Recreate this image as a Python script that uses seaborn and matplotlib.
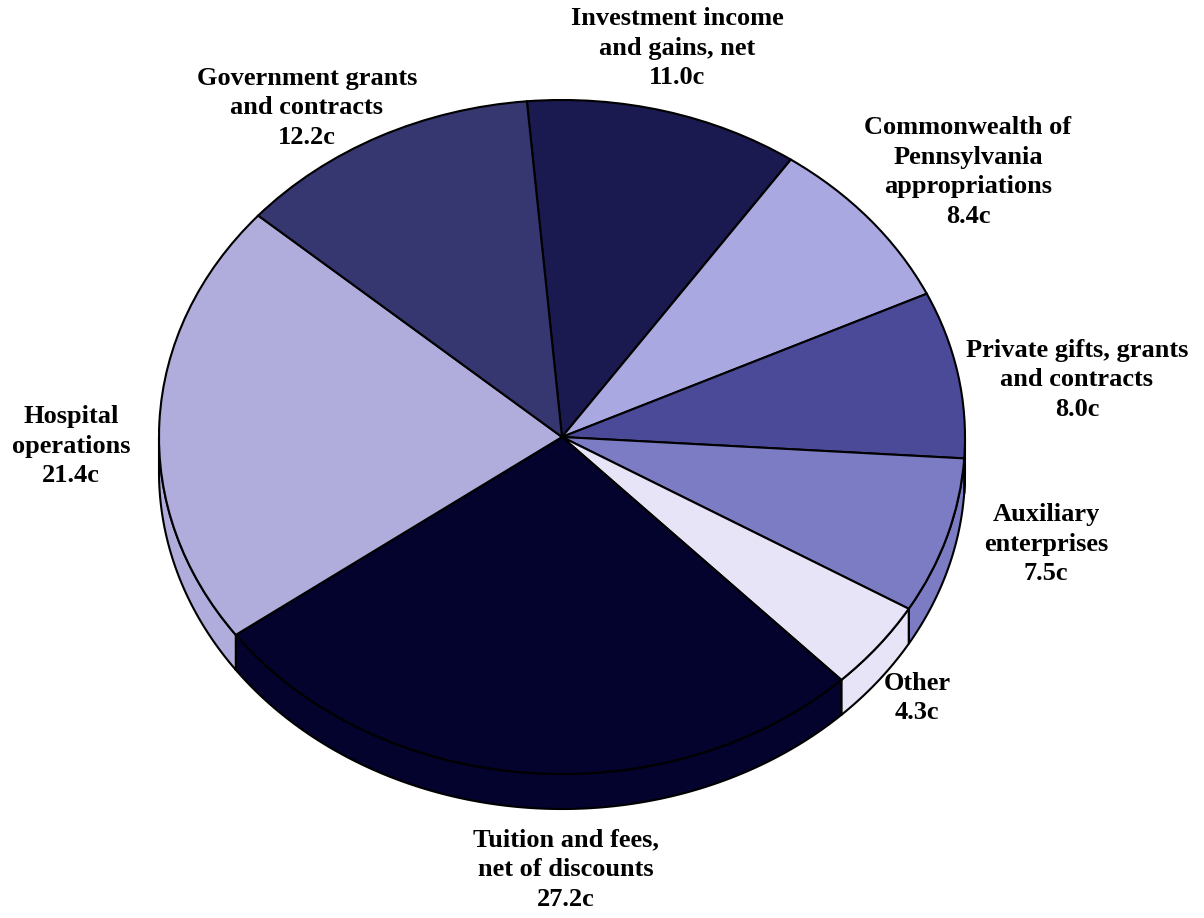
import numpy as np
import matplotlib
matplotlib.use("Agg")
import matplotlib.pyplot as plt
import seaborn as sns

# ---- data ----
categories = ["Investment income\nand gains, net",
              "Commonwealth of\nPennsylvania\nappropriations",
              "Private gifts, grants\nand contracts",
              "Auxiliary\nenterprises",
              "Other",
              "Tuition and fees,\nnet of discounts",
              "Hospital\noperations",
              "Government grants\nand contracts"]
values = [11.0, 8.4, 8.0, 7.5, 4.3, 27.2, 21.4, 12.2]
value_labels = ["11.0c", "8.4c", "8.0c", "7.5c", "4.3c", "27.2c", "21.4c", "12.2c"]
colors = ["#1a1a50", "#aaa8e0", "#4a4a98", "#7c7cc4",
          "#e8e4f8", "#03032e", "#b0acdc", "#363670"]

# ---- layout ----
W, H = 1204, 918
CX, CY, RX, RY = 562, 437, 403, 337          # pixel geometry of the pie top
START = 95.0
DEPTH = 35 / RY
label_px = [(677, 48), (968, 172), (1077, 380), (1046, 544),
            (917, 698), (566, 870), (71, 446), (307, 108)]

sns.set_theme(style="white")
plt.rcParams['font.family'] = ['Liberation Serif', 'DejaVu Serif']

fig = plt.figure(figsize=(W / 100, H / 100), dpi=100)
ax = fig.add_axes([0, 0, 1, 1])

wedges, _ = ax.pie(values, colors=colors, startangle=START, counterclock=False,
                   wedgeprops=dict(edgecolor="black", linewidth=1.5))
for w in wedges:
    w.set_zorder(3)

# side walls of the tilted pie
total = sum(values)
cum = np.concatenate([[0], np.cumsum(values)]) / total * 360
for i in range(len(values)):
    a_hi = START - cum[i]
    a_lo = START - cum[i + 1]
    for shift in (0, -360, 360):
        lo = max(a_lo + shift, -180)
        hi = min(a_hi + shift, 0)
        if hi > lo:
            t = np.radians(np.linspace(lo, hi, 200))
            xs = np.concatenate([np.cos(t), np.cos(t[::-1])])
            ys = np.concatenate([np.sin(t), np.sin(t[::-1]) - DEPTH])
            ax.fill(xs, ys, facecolor=colors[i], edgecolor="black",
                    linewidth=1.5, zorder=1)

ax.set_aspect("auto")
ax.set_xlim(-CX / RX, (W - CX) / RX)
ax.set_ylim(-(H - CY) / RY, CY / RY)
ax.axis("off")

for cat, vl, (px, py) in zip(categories, value_labels, label_px):
    ax.text((px - CX) / RX, (CY - py) / RY, f"{cat}\n{vl}",
            ha="center", va="center", fontsize=19, fontweight="bold",
            linespacing=1.38, color="black", zorder=5)

fig.savefig("out.png", dpi=100, facecolor="white")
